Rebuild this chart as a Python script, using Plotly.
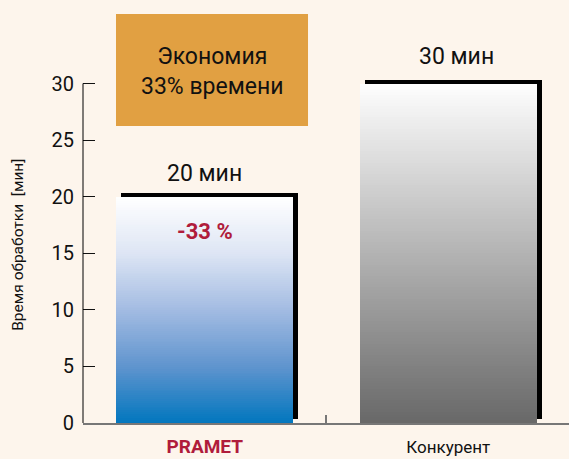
import plotly.graph_objects as go

# ---- data ----
categories = ["PRAMET", "Конкурент"]
values = [20, 30]
value_labels = ["20 мин", "30 мин"]
y_ticks = [0, 5, 10, 15, 20, 25, 30]
y_title = "Время обработки\u00a0\u00a0[мин]"
box_text = "Экономия<br>33% времени"
diff_label = "-33 %"

# ---- style ----
FONT = "Roboto, 'Open Sans', sans-serif"
BG = "#fdf5ec"
RED = "#b01c3b"
BAR_W = 0.727
N_SEG = 120
blue_stops = [(0.0, (0, 118, 190)), (0.25, (95, 148, 206)), (0.5, (162, 187, 226)),
              (0.75, (221, 229, 244)), (1.0, (255, 255, 255))]
gray_stops = [(0.0, (104, 104, 104)), (1.0, (254, 254, 254))]
stops_per_bar = [blue_stops, gray_stops]


def interp(stops, t):
    for (t0, c0), (t1, c1) in zip(stops[:-1], stops[1:]):
        if t0 <= t <= t1:
            f = (t - t0) / (t1 - t0)
            c = [round(a + (b - a) * f) for a, b in zip(c0, c1)]
            return "rgb(%d,%d,%d)" % tuple(c)
    return "rgb(%d,%d,%d)" % stops[-1][1]


fig = go.Figure()

# shadow bars
fig.add_trace(go.Bar(
    x=categories, y=values, base=0.35, width=BAR_W, offset=-BAR_W / 2 + 0.021,
    marker=dict(color="black", line=dict(width=0)), hoverinfo="skip", showlegend=False))

# gradient bars (stack of thin segments)
for cat, v, stops in zip(categories, values, stops_per_bar):
    seg = v / N_SEG
    fig.add_trace(go.Bar(
        x=[cat] * N_SEG, y=[seg] * N_SEG,
        base=[seg * k for k in range(N_SEG)],
        width=BAR_W,
        marker=dict(color=[interp(stops, (k + 0.5) / N_SEG) for k in range(N_SEG)],
                    line=dict(width=0)),
        hoverinfo="skip", showlegend=False))

annotations = [
    dict(x=categories[0], y=values[0], text=value_labels[0], showarrow=False,
         yanchor="middle", yshift=23, font=dict(size=23, color="#111", family=FONT)),
    dict(x=categories[1], y=values[1], text=value_labels[1], showarrow=False,
         yanchor="middle", xshift=8, yshift=27, font=dict(size=23, color="#111", family=FONT)),
    dict(x=categories[0], y=values[0], text="<b>%s</b>" % diff_label, showarrow=False,
         yanchor="middle", yshift=-35, font=dict(size=22, color=RED, family=FONT)),
    dict(xref="paper", yref="paper", x=0.265, y=0.831, text=box_text, showarrow=False,
         xanchor="center", yanchor="middle", align="center",
         font=dict(size=23, color="#111", family=FONT)),
    dict(xref="paper", yref="paper", x=-0.134, y=0.421, text=y_title, showarrow=False,
         textangle=-90, xanchor="center", yanchor="middle",
         font=dict(size=15.5, color="#111", family=FONT)),
]

shapes = [
    dict(type="rect", xref="paper", yref="paper", x0=0.0679, x1=0.463, y0=0.702, y1=0.967,
         fillcolor="#e1a042", line=dict(width=0), layer="below"),
    dict(type="line", xref="paper", yref="y", x0=0, x1=0, y0=0, y1=30,
         line=dict(color="black", width=1)),
]

ticktext = [
    "<b><span style='color:%s;font-size:19px'>%s</span></b>" % (RED, categories[0]),
    "<span style='color:#111;font-size:17px'>%s</span>" % categories[1],
]

fig.update_layout(
    width=569, height=459,
    margin=dict(l=83, r=0, t=0, b=36),
    paper_bgcolor=BG, plot_bgcolor=BG,
    barmode="overlay", bargap=0,
    font=dict(family=FONT, color="#111"),
    annotations=annotations, shapes=shapes,
    xaxis=dict(
        type="category", range=[-0.5, 1.496], showgrid=False, zeroline=False,
        showline=True, linecolor="#777", linewidth=2, automargin=False,
        tickmode="array", tickvals=categories, ticktext=ticktext,
        tickson="boundaries", ticks="inside", ticklen=8, tickcolor="#777", tickwidth=1.5,
        ticklabelstandoff=14,
    ),
    yaxis=dict(
        range=[0, 37.38], showgrid=False, zeroline=False, showline=False, automargin=False,
        tickmode="array", tickvals=y_ticks, ticks="inside", ticklen=12,
        tickcolor="#111", tickwidth=1, tickfont=dict(size=20, color="#111", family=FONT),
        ticklabelstandoff=8,
    ),
)

fig.write_html("out.html")
